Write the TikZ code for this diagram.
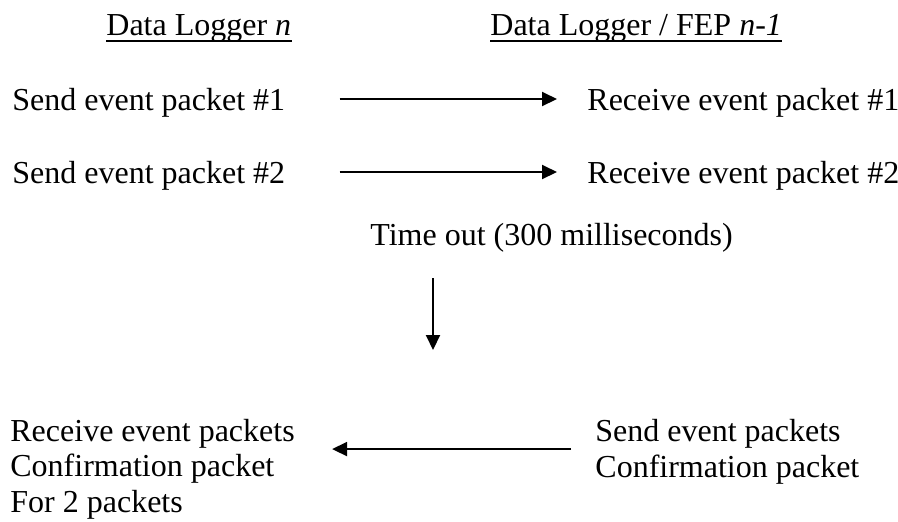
\documentclass[tikz,border=0pt]{standalone}
\usepackage{fontspec}
\setmainfont{Liberation Serif}
\usetikzlibrary{arrows.meta}

\begin{document}
\begin{tikzpicture}
      [x=0.5pt,y=-0.5pt,
       msg/.style={anchor=base west,inner sep=0pt,text height=14pt,text depth=3pt,font=\fontsize{16}{17.75}\selectfont},
       msgblock/.style={msg,align=left,text height=,text depth=},
       flow/.style={-{Triangle[length=7.5pt,width=7pt]},line width=1pt}]
      \useasboundingbox (0,0) rectangle (898,521);
      % place nodes
      \node[msg] (hdrlogger) at (106,35) {Data Logger \textit{n}};
      \node[msg] (hdrfep) at (490,35) {Data Logger / FEP \textit{n-1}};
      \node[msg] (send1) at (12,110) {Send event packet \#1};
      \node[msg] (recv1) at (587,110) {Receive event packet \#1};
      \node[msg] (send2) at (12,183) {Send event packet \#2};
      \node[msg] (recv2) at (587,183) {Receive event packet \#2};
      \node[msg] (timeout) at (370,245) {Time out (300 milliseconds)};
      \coordinate (waitend) at (433,350);
      \node[msgblock] (recvall) at (10,512) {Receive event packets\\Confirmation packet\\For 2 packets};
      \node[msgblock] (sendconf) at (595,477) {Send event packets\\Confirmation packet};
      % underline headers
      \draw[line width=1pt] ([yshift=-3pt]hdrlogger.base west) -- ([yshift=-3pt]hdrlogger.base east);
      \draw[line width=1pt] ([yshift=-3pt]hdrfep.base west) -- ([yshift=-3pt]hdrfep.base east);
      % add edges
      \draw[flow,shorten <=27pt,shorten >=15pt] (send1) -- (recv1);
      \draw[flow,shorten <=27pt,shorten >=15pt] (send2) -- (recv2);
      \draw[flow,shorten <=13.5pt] (timeout.south -| waitend) -- (waitend);
      \draw[flow,shorten <=12pt,shorten >=18.5pt] ([yshift=1.25pt]sendconf.west) -- ([yshift=1.25pt]sendconf.west -| recvall.east);
\end{tikzpicture}
\end{document}
